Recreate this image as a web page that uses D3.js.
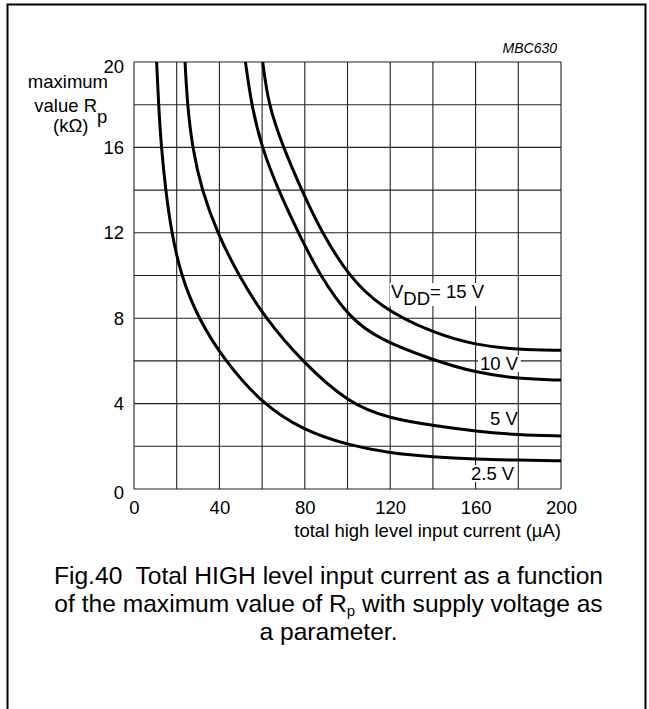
<!DOCTYPE html>
<html>
<head>
<meta charset="utf-8">
<script src="https://cdn.jsdelivr.net/npm/d3@7"></script>
<style>
  html, body { margin: 0; padding: 0; background: #fff; }
  svg { display: block; }
  text { font-family: "Liberation Sans", Arial, Helvetica, sans-serif; fill: #000; white-space: pre; }
</style>
</head>
<body>
<svg id="chart" width="649" height="709"></svg>
<script>
// Supply-voltage curves: [input current (µA), max Rp (kΩ)]
const curve2v5 = [[10.6,20],[11.5,18],[12.8,16],[14.8,14],[17.6,12],[22,10],[30,8],[42.5,6],[60,4],[79,2.76],[100,2.06],[120,1.68],[140,1.5],[160,1.4],[180,1.35],[200,1.32]];
const curve5 = [[23.9,20],[25,18],[27.3,16],[31.7,14],[39,12],[49,10],[61.4,8],[78.5,6],[100.5,4],[120,3.3],[140,2.98],[160,2.7],[180,2.53],[200,2.48]];
const curve10 = [[52.2,20],[55,18],[59.8,16],[67.6,14],[77,12],[87,10],[101,8],[115,7],[140,6.04],[160,5.45],[180,5.16],[200,5.1]];
const curve15 = [[60.3,20],[62.9,18],[69.9,16],[78.5,14],[88,12],[100.4,10],[115,8.54],[140,7.3],[160,6.74],[180,6.52],[200,6.5]];

const xTicks = [0, 40, 80, 120, 160, 200];
const yTicks = [0, 4, 8, 12, 16, 20];
const xGrid = d3.range(0, 201, 20);
const yGrid = d3.range(0, 21, 2);

const svg = d3.select("#chart");

// outer frame
svg.append("rect")
  .attr("x", 7.5).attr("y", 4.5).attr("width", 638).attr("height", 720)
  .attr("fill", "none").attr("stroke", "#000").attr("stroke-width", 2);

const x = d3.scaleLinear().domain([0, 200]).range([134, 561]);
const y = d3.scaleLinear().domain([0, 20]).range([489, 62]);

// grid
const grid = svg.append("g").attr("stroke", "#222").attr("stroke-width", 1.1);
grid.selectAll("line.v").data(xGrid).join("line").attr("class", "v")
  .attr("x1", d => x(d)).attr("x2", d => x(d))
  .attr("y1", y(0)).attr("y2", y(20));
grid.selectAll("line.h").data(yGrid).join("line").attr("class", "h")
  .attr("x1", x(0)).attr("x2", x(200))
  .attr("y1", d => y(d)).attr("y2", d => y(d));

// axes (labels only; grid acts as ticks)
const xAxis = d3.axisBottom(x).tickValues(xTicks).tickSize(0).tickPadding(12);
const gx = svg.append("g").attr("transform", `translate(0,${y(0)})`).call(xAxis);
gx.select(".domain").remove();
gx.selectAll("text").style("font-size", "18.5px").style("font-family", null);

const yAxis = d3.axisLeft(y).tickValues(yTicks).tickSize(0).tickPadding(10);
const gy = svg.append("g").attr("transform", `translate(${x(0)},0)`).call(yAxis);
gy.select(".domain").remove();
gy.selectAll("text").style("font-size", "18.5px").style("font-family", null)
  .attr("dy", d => d === 20 ? "0.54em" : d === 0 ? "0.5em" : "0.32em");

// labels with white backing
function label(xp, yp, build, pad, below) {
  const g = svg.append("g");
  const bg = g.append("rect").attr("fill", "#fff");
  const t = g.append("text").attr("x", xp).attr("y", yp).style("font-size", "18.5px");
  build(t);
  const b = t.node().getBBox();
  if (below !== null) {
    bg.attr("x", b.x - pad).attr("y", yp - 15).attr("width", b.width + 2 * pad).attr("height", 15 + below);
  } else {
    bg.remove();
  }
}
label(391, 298, t => {
  t.append("tspan").text("V");
  t.append("tspan").attr("dy", 7).text("DD");
  t.append("tspan").attr("dy", -7).text("= 15 V");
}, 1, 8);
label(480, 370, t => t.text("10 V"), 2, 2);
label(490, 425, t => t.text("5 V"), 0, null);
label(471, 480, t => t.text("2.5 V"), 1, 2);

// curves
const line = d3.line().x(d => x(d[0])).y(d => y(d[1])).curve(d3.curveBasis);
svg.append("g").selectAll("path").data([curve2v5, curve5, curve10, curve15]).join("path")
  .attr("d", line).attr("fill", "none").attr("stroke", "#000").attr("stroke-width", 3);

// y title
const yt = svg.append("g").style("font-size", "18.5px");
yt.append("text").attr("x", 108).attr("y", 88).attr("text-anchor", "end").text("maximum");
yt.append("text").attr("x", 97).attr("y", 111.5).attr("text-anchor", "end").text("value R");
yt.append("text").attr("x", 97).attr("y", 122.5).text("p");
yt.append("text").attr("x", 53).attr("y", 132).text("(kΩ)");

// x title
svg.append("text").attr("x", 561).attr("y", 537).attr("text-anchor", "end")
  .style("font-size", "18.5px").text("total high level input current (µA)");

// drawing code
svg.append("text").attr("x", 557).attr("y", 53).attr("text-anchor", "end")
  .style("font-size", "14px").style("font-style", "italic").text("MBC630");

// caption
const cap = svg.append("g").attr("text-anchor", "middle").style("font-size", "24.6px");
cap.append("text").attr("x", 328.5).attr("y", 584).text("Fig.40  Total HIGH level input current as a function");
const c2 = cap.append("text").attr("x", 328.5).attr("y", 612);
c2.append("tspan").text("of the maximum value of R");
c2.append("tspan").attr("dy", 4).style("font-size", "15px").text("p");
c2.append("tspan").attr("dy", -4).text(" with supply voltage as");
cap.append("text").attr("x", 328.5).attr("y", 640).text("a parameter.");
</script>
</body>
</html>
